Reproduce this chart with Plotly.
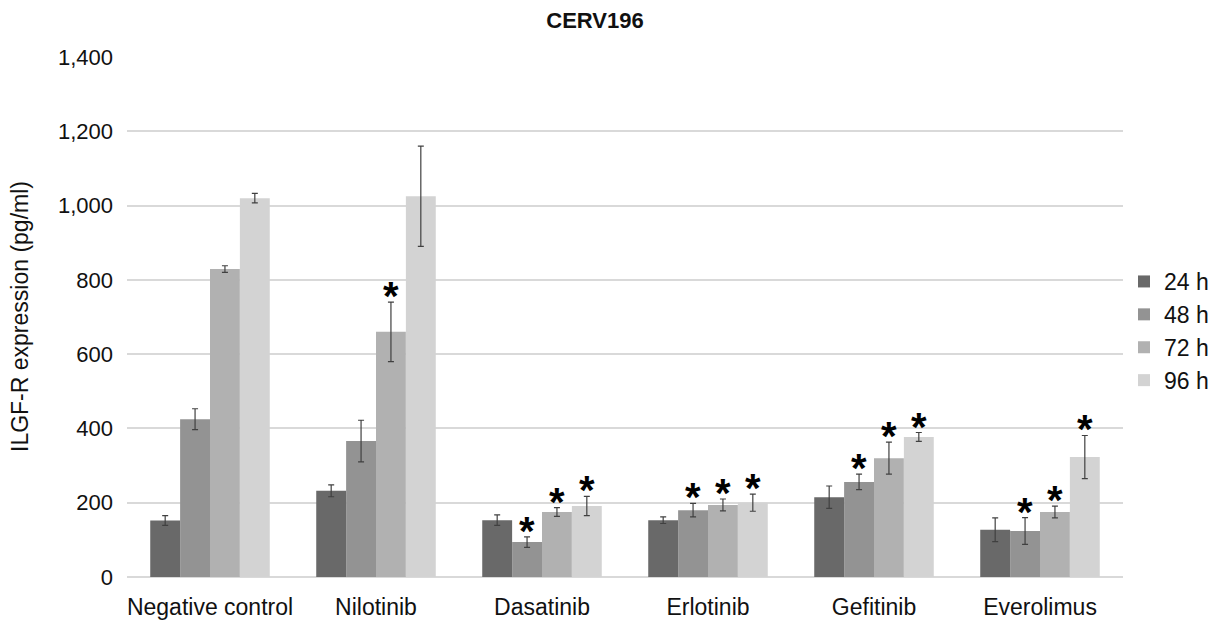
import plotly.graph_objects as go

categories = ["Negative control", "Nilotinib", "Dasatinib", "Erlotinib", "Gefitinib", "Everolimus"]
series_names = ["24 h", "48 h", "72 h", "96 h"]
values_24h = [152, 232, 153, 153, 215, 127]
values_48h = [425, 366, 94, 180, 256, 124]
values_72h = [829, 660, 175, 194, 320, 175]
values_96h = [1020, 1025, 191, 200, 377, 323]
err_24h = [13, 16, 14, 9, 30, 32]
err_48h = [28, 56, 14, 18, 21, 36]
err_72h = [9, 80, 12, 16, 43, 16]
err_96h = [13, 135, 26, 23, 12, 58]
# significance markers (1 = star)
sig_24h = [0, 0, 0, 0, 0, 0]
sig_48h = [0, 0, 1, 1, 1, 1]
sig_72h = [0, 1, 1, 1, 1, 1]
sig_96h = [0, 0, 1, 1, 1, 1]
y_ticks = [0, 200, 400, 600, 800, 1000, 1200, 1400]

colors = ["#696969", "#939393", "#b1b1b1", "#d3d3d3"]
all_vals = [values_24h, values_48h, values_72h, values_96h]
all_errs = [err_24h, err_48h, err_72h, err_96h]
all_sigs = [sig_24h, sig_48h, sig_72h, sig_96h]

FONT = "Liberation Sans, Arial, sans-serif"
W, H = 1219, 624
L, R, T, B = 119, 104, 49, 55

fig = go.Figure()
for name, vals, errs, col in zip(series_names, all_vals, all_errs, colors):
    fig.add_trace(go.Bar(
        name=name, x=categories, y=vals, marker_color=col, marker_line_width=0,
        error_y=dict(type="data", array=errs, visible=True, color="#404040",
                     thickness=1.2, width=3),
    ))

bargap = 0.28
bw = (1 - bargap) / 4
offsets = [(-1.5 + i) * bw for i in range(4)]
annotations = []
for si in range(4):
    for ci in range(len(categories)):
        if all_sigs[si][ci]:
            annotations.append(dict(
                x=ci + offsets[si], y=all_vals[si][ci] + all_errs[si][ci],
                xref="x", yref="y", text="<b>*</b>", showarrow=False,
                yanchor="bottom", yshift=-18,
                font=dict(family=FONT, size=40, color="black"),
            ))

annotations.append(dict(
    text="ILGF-R expression (pg/ml)", textangle=-90, showarrow=False,
    xref="paper", yref="paper", x=(12 - L) / (W - L - R), y=0.5,
    xanchor="center", yanchor="middle",
    font=dict(family=FONT, size=23, color="#111111"),
))

fig.update_layout(
    width=W, height=H,
    barmode="group", bargap=bargap, bargroupgap=0,
    paper_bgcolor="white", plot_bgcolor="white",
    margin=dict(l=L, r=R, t=T, b=B, autoexpand=False),
    title=dict(text="<b>CERV196</b>", x=587 / W, xanchor="center",
               y=1 - 12 / H, yanchor="middle",
               font=dict(family=FONT, size=22, color="#111111")),
    font=dict(family=FONT, size=22, color="#111111"),
    legend=dict(xref="container", yref="container", x=1116 / W, y=1 - 323 / H,
                xanchor="left", yanchor="middle",
                font=dict(family=FONT, size=23), itemwidth=30,
                tracegroupgap=0),
    annotations=annotations,
    showlegend=True,
)
fig.update_xaxes(showline=False, ticks="", tickfont=dict(size=23), showgrid=False,
                 ticklabelstandoff=14)
fig.update_yaxes(range=[0, 1400], tickvals=y_ticks, tickformat=",", showgrid=True,
                 gridcolor="#d9d9d9", gridwidth=1.5, zeroline=True, zerolinecolor="#d9d9d9",
                 zerolinewidth=1.5, ticks="", ticklen=0, tickfont=dict(size=22),
                 ticklabelstandoff=13)

fig.write_html("out.html")
